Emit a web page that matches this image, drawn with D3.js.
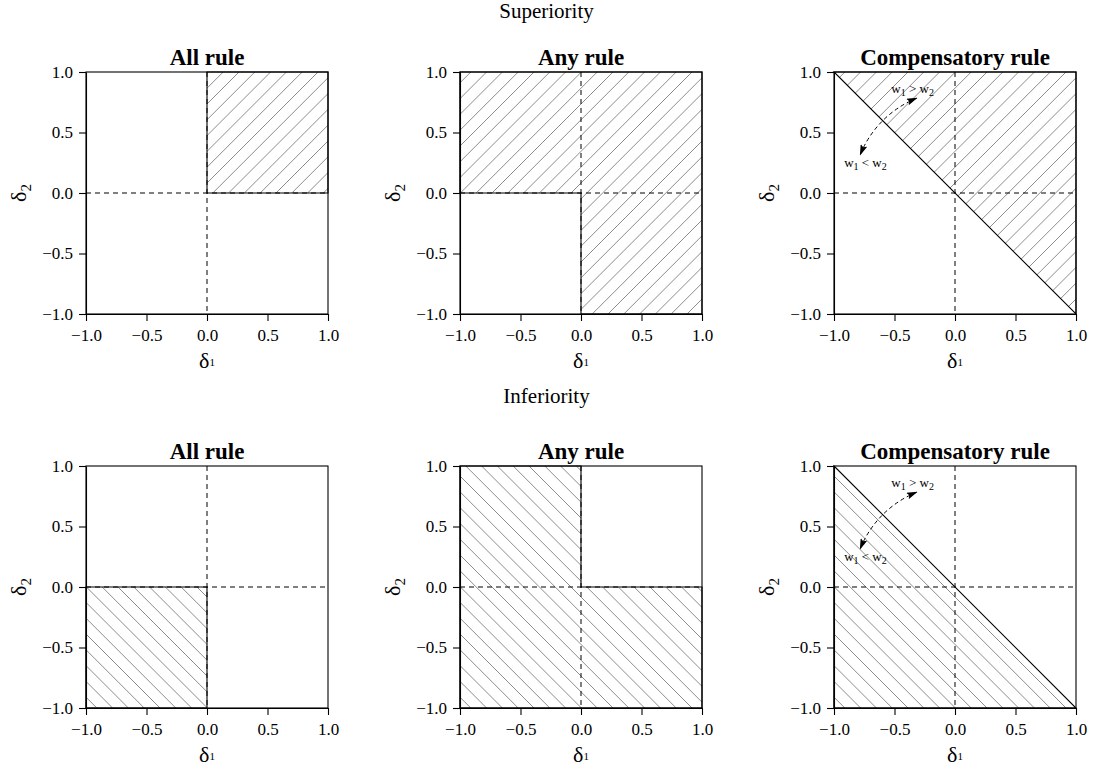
<!DOCTYPE html>
<html>
<head>
<meta charset="utf-8">
<script src="https://cdn.jsdelivr.net/npm/d3@7"></script>
<style>
  body { margin: 0; background: #fff; }
  text { font-family: "Liberation Serif", "DejaVu Serif", serif; fill: #000; }
</style>
</head>
<body>
<div id="wrapper"></div>
<script>
// Data
const rowTitles = ["Superiority", "Inferiority"]
const ruleTitles = ["All rule", "Any rule", "Compensatory rule"]
const tickValues = [-1, -0.5, 0, 0.5, 1]
const domain = [-1, 1]

// shaded regions, [row][col], as [delta1, delta2] corners
const regions = [
    [
        [[0, 0], [1, 0], [1, 1], [0, 1]],
        [[-1, 0], [0, 0], [0, -1], [1, -1], [1, 1], [-1, 1]],
        [[-1, 1], [1, 1], [1, -1]],
    ],
    [
        [[-1, -1], [0, -1], [0, 0], [-1, 0]],
        [[-1, -1], [1, -1], [1, 0], [0, 0], [0, 1], [-1, 1]],
        [[-1, 1], [1, -1], [-1, -1]],
    ],
]
const hatchDirection = ["up", "down"] // "/" for superiority, "\" for inferiority

// weight arrow on the compensatory panels (arc around the origin)
const arcRadius = 0.845
const arcAngles = [112, 158] // degrees
const weightLabels = [
    { x: -0.35, y: 0.86, parts: ["w", "1", " > w", "2"] },
    { x: -0.74, y: 0.25, parts: ["w", "1", " < w", "2"] },
]

// Dimensions
const dimensions = {
    width: 1093,
    height: 775,
    size: 242,
    colX: [86, 460, 834],
    rowY: [72, 466],
}
const hatchGap = 15.8

const svg = d3.select("#wrapper")
    .append("svg")
        .attr("width", dimensions.width)
        .attr("height", dimensions.height)

const defs = svg.append("defs")
defs.append("marker")
    .attr("id", "head")
    .attr("viewBox", "0 0 11 7")
    .attr("refX", 10)
    .attr("refY", 3.5)
    .attr("markerWidth", 11)
    .attr("markerHeight", 7)
    .attr("markerUnits", "userSpaceOnUse")
    .attr("orient", "auto-start-reverse")
  .append("path")
    .attr("d", "M0,0 L11,3.5 L0,7 L2,3.5 Z")
    .attr("fill", "#000")

// row headings
const rowTitleY = [18, 403]
rowTitles.forEach((t, r) => {
    svg.append("text")
        .attr("x", dimensions.width / 2)
        .attr("y", rowTitleY[r])
        .attr("text-anchor", "middle")
        .style("font-size", "21px")
        .text(t)
})

const fmt = d3.format(".1f")

rowTitles.forEach((rowName, r) => {
    ruleTitles.forEach((rule, c) => {
        const left = dimensions.colX[c]
        const top = dimensions.rowY[r]
        const s = dimensions.size

        const xScale = d3.scaleLinear().domain(domain).range([0, s])
        const yScale = d3.scaleLinear().domain(domain).range([s, 0])

        const bounds = svg.append("g")
            .attr("transform", `translate(${left},${top})`)

        // hatched region
        const clipId = `clip-${r}-${c}`
        const poly = regions[r][c].map(d => [xScale(d[0]), yScale(d[1])])
        defs.append("clipPath").attr("id", clipId)
            .append("polygon")
            .attr("points", poly.map(p => p.join(",")).join(" "))

        const hatch = bounds.append("g").attr("clip-path", `url(#${clipId})`)
        const ks = d3.range(-s, 2 * s + hatchGap, hatchGap)
        ks.forEach(k => {
            // "/" lines: x + y = k ; "\" lines: x - y = k - s
            const line = hatchDirection[r] === "up"
                ? [[k - s - 5, s + 5], [k + 5, -5]]
                : [[k - s - 5, -5], [k + 5, s + 5]]
            hatch.append("line")
                .attr("x1", line[0][0]).attr("y1", line[0][1])
                .attr("x2", line[1][0]).attr("y2", line[1][1])
                .attr("stroke", "#8c8c8c")
                .attr("stroke-width", 1)
        })

        // reference lines at zero
        bounds.append("line")
            .attr("x1", xScale(0)).attr("x2", xScale(0))
            .attr("y1", 0).attr("y2", s)
            .attr("stroke", "#000").attr("stroke-dasharray", "5,4")
        bounds.append("line")
            .attr("x1", 0).attr("x2", s)
            .attr("y1", yScale(0)).attr("y2", yScale(0))
            .attr("stroke", "#000").attr("stroke-dasharray", "5,4")

        // region border
        bounds.append("polygon")
            .attr("points", poly.map(p => p.join(",")).join(" "))
            .attr("fill", "none")
            .attr("stroke", "#000")
            .attr("stroke-width", 1.1)

        // box
        bounds.append("rect")
            .attr("width", s).attr("height", s)
            .attr("fill", "none")
            .attr("stroke", "#000")
            .attr("stroke-width", 1.1)

        // axes
        const xAxis = bounds.append("g")
            .attr("transform", `translate(0,${s})`)
            .call(d3.axisBottom(xScale).tickValues(tickValues).tickFormat(fmt)
                .tickSizeInner(7).tickSizeOuter(0).tickPadding(8))
        const yAxis = bounds.append("g")
            .call(d3.axisLeft(yScale).tickValues(tickValues).tickFormat(fmt)
                .tickSizeInner(7).tickSizeOuter(0).tickPadding(6))
        ;[xAxis, yAxis].forEach(a => {
            a.selectAll("text")
                .style("font-family", "'Liberation Serif', serif")
                .style("font-size", "17px")
                .attr("fill", "#000")
            a.selectAll("line, path").attr("stroke", "#000").attr("stroke-width", 1.1)
        })

        // title
        bounds.append("text")
            .attr("x", s / 2)
            .attr("y", -7)
            .attr("text-anchor", "middle")
            .style("font-size", "23px")
            .style("font-weight", "bold")
            .text(rule)

        // axis labels
        const xl = bounds.append("text")
            .attr("x", s / 2)
            .attr("y", s + 54)
            .attr("text-anchor", "middle")
            .style("font-size", "22px")
        xl.append("tspan").text("δ")
        xl.append("tspan").attr("dy", -2).style("font-size", "11px").text("1")

        const yl = bounds.append("text")
            .attr("transform", `translate(${-60},${s / 2}) rotate(-90)`)
            .attr("text-anchor", "middle")
            .style("font-size", "22px")
        yl.append("tspan").text("δ")
        yl.append("tspan").attr("dy", 5).style("font-size", "15px").text("2")

        // weight arrow on compensatory rule
        if (c === 2) {
            const rad = Math.abs(xScale(arcRadius) - xScale(0))
            const path = d3.path()
            path.arc(xScale(0), yScale(0), rad,
                -arcAngles[0] * Math.PI / 180, -arcAngles[1] * Math.PI / 180, true)
            bounds.append("path")
                .attr("d", path.toString())
                .attr("fill", "none")
                .attr("stroke", "#000")
                .attr("stroke-dasharray", "4,3")
                .attr("marker-start", "url(#head)")
                .attr("marker-end", "url(#head)")

            weightLabels.forEach(w => {
                const t = bounds.append("text")
                    .attr("x", xScale(w.x))
                    .attr("y", yScale(w.y) + 4)
                    .attr("text-anchor", "middle")
                    .style("font-size", "13px")
                w.parts.forEach((p, i) => {
                    const ts = t.append("tspan").text(p)
                    if (i % 2 === 1) ts.attr("dy", 3).style("font-size", "10px")
                    else if (i > 0) ts.attr("dy", -3)
                })
            })
        }
    })
})
</script>
</body>
</html>
